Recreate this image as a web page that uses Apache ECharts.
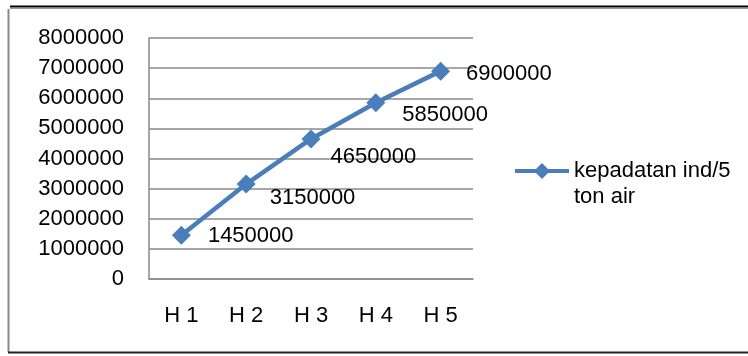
<!DOCTYPE html>
<html>
<head>
<meta charset="utf-8">
<script src="https://cdn.jsdelivr.net/npm/echarts@6/dist/echarts.min.js"></script>
<style>
  html, body { margin: 0; padding: 0; background: #fff; }
  #chart { width: 748px; height: 356px; }
</style>
</head>
<body>
<div id="chart"></div>
<script>
// Density per 5 tonnes of water, sampled on days H 1 – H 5
const categories = ['H 1', 'H 2', 'H 3', 'H 4', 'H 5'];
const densityValues = [1450000, 3150000, 4650000, 5850000, 6900000];
const seriesName = 'kepadatan ind/5\nton air';
const yTicks = { min: 0, max: 8000000, step: 1000000 };

// Nudges for each value label, in pixels from the default "right" spot
const labelShift = [[12, 1], [9, 14], [5, 18], [12, 12], [11, 3]];

const font = '"Liberation Sans", Arial, sans-serif';
const blue = '#4a7ebb';
const gridGray = '#8a8a8a';
const fs = 22;

const chart = echarts.init(document.getElementById('chart'), null, { renderer: 'canvas' });

chart.setOption({
  animation: false,
  backgroundColor: '#ffffff',
  textStyle: { fontFamily: font },
  grid: { left: 149, right: 275, top: 38, bottom: 77 },
  xAxis: {
    type: 'category',
    data: categories,
    boundaryGap: true,
    axisLine: { lineStyle: { color: gridGray, width: 1.5 } },
    axisTick: { show: false },
    axisLabel: { color: '#000', fontSize: fs, fontFamily: font, margin: 26 }
  },
  yAxis: {
    type: 'value',
    min: yTicks.min,
    max: yTicks.max,
    interval: yTicks.step,
    axisLine: { show: true, lineStyle: { color: gridGray, width: 1.5 } },
    axisTick: { show: false },
    splitLine: { lineStyle: { color: gridGray, width: 1.5 } },
    axisLabel: {
      color: '#000', fontSize: fs, fontFamily: font, margin: 25,
      formatter: v => String(v)
    }
  },
  legend: {
    left: 513,
    top: 132,
    itemWidth: 54,
    itemHeight: 20,
    itemGap: 0,
    padding: 0,
    lineStyle: { width: 4, color: blue },
    itemStyle: { color: blue },
    // blank first line keeps the icon level with the first line of the name
    formatter: name => '\u00a0\n' + name,
    textStyle: { color: '#000', fontSize: fs, fontFamily: font, lineHeight: 26 },
    data: [seriesName]
  },
  series: [{
    name: seriesName,
    type: 'line',
    data: densityValues.map((v, i) => ({
      value: v,
      label: { offset: labelShift[i] }
    })),
    symbol: 'diamond',
    symbolSize: 19,
    itemStyle: { color: blue },
    lineStyle: { color: blue, width: 4.5 },
    label: {
      show: true,
      position: 'right',
      color: '#000',
      fontSize: fs,
      fontFamily: font
    }
  }],
  graphic: [
    { type: 'line', shape: { x1: 10, y1: 6.5, x2: 748, y2: 6.5 }, style: { stroke: '#000', lineWidth: 2 } },
    { type: 'line', shape: { x1: 10, y1: 8.5, x2: 748, y2: 8.5 }, style: { stroke: '#999', lineWidth: 1 } },
    { type: 'line', shape: { x1: 8.5, y1: 9, x2: 8.5, y2: 352 }, style: { stroke: '#8a8a8a', lineWidth: 2 } },
    { type: 'line', shape: { x1: 8, y1: 352.5, x2: 748, y2: 352.5 }, style: { stroke: '#222', lineWidth: 2 } }
  ]
});
</script>
</body>
</html>
